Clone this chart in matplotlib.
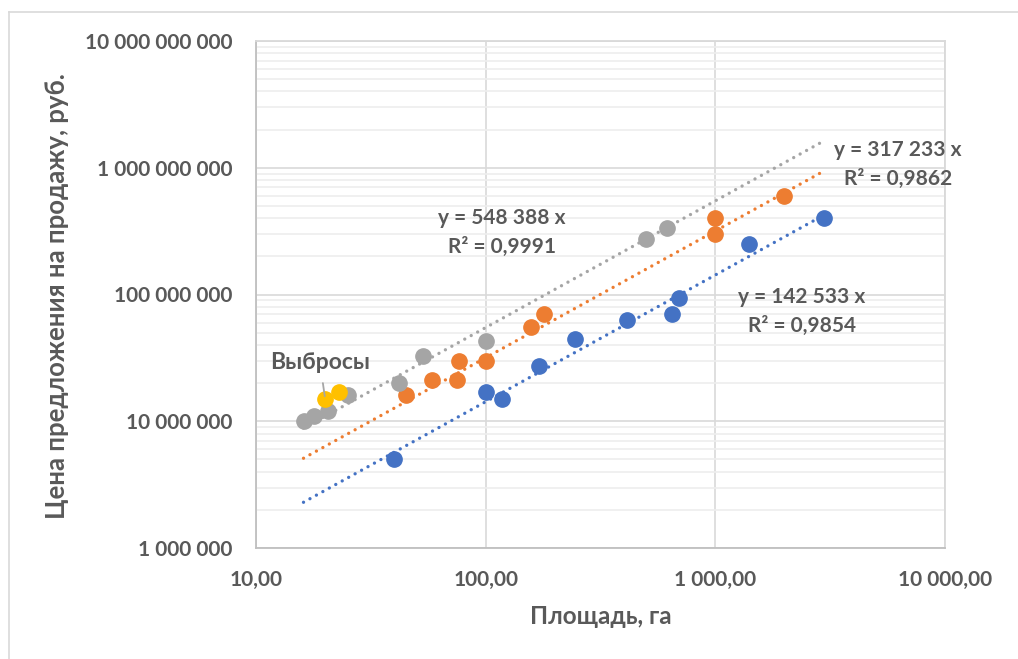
import matplotlib
matplotlib.use("Agg")
import matplotlib.pyplot as plt
from matplotlib.ticker import FixedLocator, FuncFormatter, LogLocator, NullFormatter
from matplotlib.lines import Line2D
import numpy as np

# --- data -----------------------------------------------------------------
gray_x = [16.1, 17.8, 20.5, 25.2, 41.9, 53.6, 100, 499, 614]
gray_y = [10.0e6, 11.0e6, 12.0e6, 16.0e6, 20.0e6, 33.0e6, 43.0e6, 274e6, 336e6]

orange_x = [44.9, 58.4, 74.8, 76.9, 100, 157, 179, 1000, 1000, 2000]
orange_y = [16e6, 21e6, 21e6, 30e6, 30e6, 55e6, 70e6, 300e6, 400e6, 600e6]

blue_x = [40, 100, 118, 171, 245, 414, 646, 697, 1400, 2970]
blue_y = [5e6, 17e6, 15e6, 27.4e6, 44.6e6, 63e6, 70e6, 94e6, 250e6, 400e6]

outlier_x = [20.0, 22.9]
outlier_y = [15e6, 17e6]

# trend coefficients (y = a * x) and fit quality
gray_a, gray_r2 = 548388, "0,9991"
orange_a, orange_r2 = 317233, "0,9862"
blue_a, blue_r2 = 142533, "0,9854"

x_ticks = [10, 100, 1000, 10000]
y_ticks = [1e6, 1e7, 1e8, 1e9, 1e10]

# --- style ----------------------------------------------------------------
FONT = ["Lato", "Noto Sans", "DejaVu Sans"]
TEXT = "#595959"
C_GRAY = "#A5A5A5"
C_ORANGE = "#ED7D31"
C_BLUE = "#4472C4"
C_YELLOW = "#FFC000"

plt.rcParams["font.family"] = FONT
plt.rcParams["font.weight"] = "bold"

W, H = 1018, 659
fig = plt.figure(figsize=(W / 100, H / 100), dpi=100)
L, R, T, B = 256, 945, 41, 548
ax = fig.add_axes([L / W, 1 - B / H, (R - L) / W, (B - T) / H])

ax.set_xscale("log")
ax.set_yscale("log")
ax.set_xlim(10, 10000)
ax.set_ylim(1e6, 1e10)


def group3(n):
    s = f"{int(round(n)):,}"
    return s.replace(",", " ")


ax.xaxis.set_major_locator(FixedLocator(x_ticks))
ax.xaxis.set_major_formatter(FuncFormatter(lambda v, p: group3(v) + ",00"))
ax.xaxis.set_minor_locator(FixedLocator([]))
ax.yaxis.set_major_locator(FixedLocator(y_ticks))
ax.yaxis.set_major_formatter(FuncFormatter(lambda v, p: group3(v)))
ax.yaxis.set_minor_locator(LogLocator(base=10, subs=np.arange(2, 10)))
ax.yaxis.set_minor_formatter(NullFormatter())

ax.tick_params(axis="both", which="both", length=0, colors=TEXT, labelsize=15)
ax.tick_params(axis="y", pad=17)
ax.tick_params(axis="x", pad=16)
for lab in ax.get_xticklabels() + ax.get_yticklabels():
    lab.set_fontweight("bold")

ax.grid(True, which="major", axis="both", color="#d9d9d9", lw=1.2, zorder=0)
ax.grid(True, which="minor", axis="y", color="#eeeeee", lw=1.2, zorder=0)
ax.set_axisbelow(True)
for side in ("top", "right"):
    ax.spines[side].set_color("#d9d9d9")
for side in ("left", "bottom"):
    ax.spines[side].set_color("#bfbfbf")
for sp in ax.spines.values():
    sp.set_linewidth(1.3)

# --- markers --------------------------------------------------------------
ms = 11
ax.plot(blue_x, blue_y, "o", color=C_BLUE, ms=ms, mec=C_BLUE, zorder=3)
ax.plot(orange_x, orange_y, "o", color=C_ORANGE, ms=ms, mec=C_ORANGE, zorder=3)
ax.plot(gray_x, gray_y, "o", color=C_GRAY, ms=ms, mec=C_GRAY, zorder=3)
ax.plot(outlier_x, outlier_y, "o", color=C_YELLOW, ms=ms, mec=C_YELLOW, zorder=4)

# --- dotted trend lines across the full data range -------------------------
all_x = gray_x + orange_x + blue_x
xs = np.logspace(np.log10(min(all_x)), np.log10(max(all_x)), 200)
dot = dict(lw=2.4, linestyle=(0, (0.01, 2.2)), dash_capstyle="round", zorder=5)
ax.plot(xs, gray_a * xs, color=C_GRAY, **dot)
ax.plot(xs, orange_a * xs, color=C_ORANGE, **dot)
ax.plot(xs, blue_a * xs, color=C_BLUE, **dot)


def eq(a, r2):
    return f"y = {group3(a)} x\nR² = {r2}"


lbl = dict(transform=ax.transAxes, ha="center", va="center", color=TEXT,
           fontsize=15, fontweight="bold", linespacing=1.55, multialignment="center")
ax.text(0.357, 0.6223, eq(gray_a, gray_r2), **lbl)
ax.text(0.932, 0.757, eq(orange_a, orange_r2), **lbl)
ax.text(0.7925, 0.4665, eq(blue_a, blue_r2), **lbl)

# outlier callout
ax.annotate("Выбросы", xy=(outlier_x[0], outlier_y[0]),
            xytext=(0.0929, 0.365), textcoords="axes fraction",
            ha="center", va="center", color=TEXT, fontsize=16.5, fontweight="bold",
            arrowprops=dict(arrowstyle="-", color="#a6a6a6", lw=1.3,
                            shrinkA=5, shrinkB=2),
            zorder=6)

# --- axis titles ----------------------------------------------------------
ax.set_xlabel("Площадь, га", fontsize=17.5, fontweight="bold", color=TEXT)
ax.xaxis.label.set_va("center")
ax.xaxis.set_label_coords(0.5, -(617 - B) / (B - T))
ax.set_ylabel("Цена предложения на продажу, руб.", fontsize=18.5,
              fontweight="bold", color=TEXT)
ax.yaxis.label.set_va("center")
ax.yaxis.set_label_coords(-(L - 57) / (R - L), 0.497)

# chart frame
fig.add_artist(Line2D([9 / W, 1], [1 - 12 / H, 1 - 12 / H], color="#d9d9d9", lw=1.2))
fig.add_artist(Line2D([9 / W, 9 / W], [0, 1 - 12 / H], color="#d9d9d9", lw=1.2))

fig.savefig("out.png", dpi=100)
